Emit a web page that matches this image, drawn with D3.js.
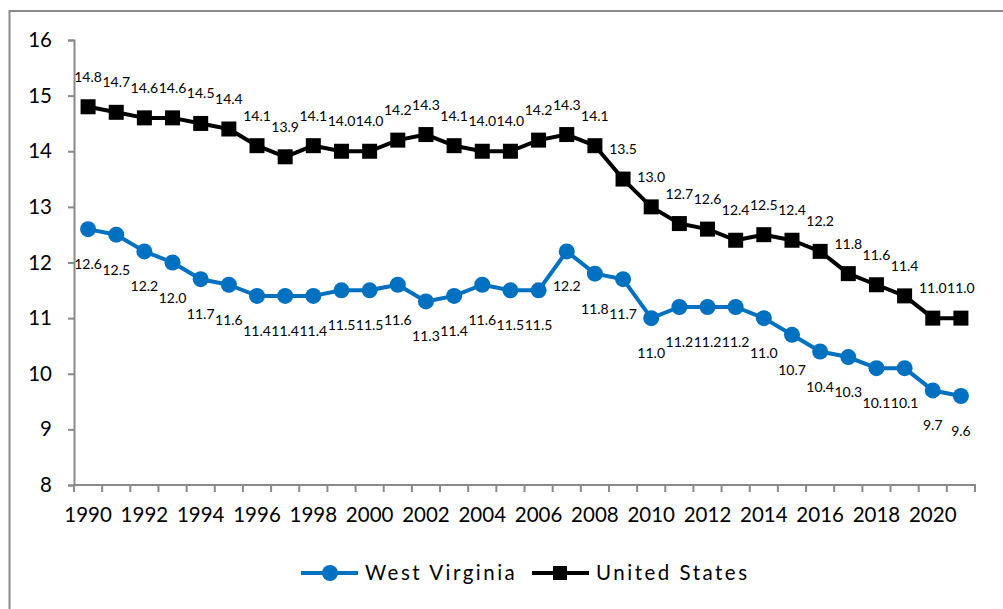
<!DOCTYPE html>
<html>
<head>
<meta charset="utf-8">
<script src="https://cdn.jsdelivr.net/npm/d3@7"></script>
<style>
  html, body { margin: 0; padding: 0; background: #fff; }
  svg { display: block; font-family: Lato, "Open Sans", sans-serif; }
</style>
</head>
<body>
<svg id="chart" width="1003" height="609"></svg>
<script>
// Years on the category axis
const years = d3.range(1990, 2022);

// Series values, one per year
const westVirginia = [12.6, 12.5, 12.2, 12.0, 11.7, 11.6, 11.4, 11.4, 11.4, 11.5, 11.5, 11.6,
                      11.3, 11.4, 11.6, 11.5, 11.5, 12.2, 11.8, 11.7, 11.0, 11.2, 11.2, 11.2,
                      11.0, 10.7, 10.4, 10.3, 10.1, 10.1, 9.7, 9.6];
const unitedStates = [14.8, 14.7, 14.6, 14.6, 14.5, 14.4, 14.1, 13.9, 14.1, 14.0, 14.0, 14.2,
                      14.3, 14.1, 14.0, 14.0, 14.2, 14.3, 14.1, 13.5, 13.0, 12.7, 12.6, 12.4,
                      12.5, 12.4, 12.2, 11.8, 11.6, 11.4, 11.0, 11.0];

// Axis ticks
const yTicks = [8, 9, 10, 11, 12, 13, 14, 15, 16];
const xTickLabels = years.filter(y => y % 2 === 0);

const seriesNames = ["West Virginia", "United States"];

const svg = d3.select("#chart");
const axisColor = "#8a8a8a";

// Outer frame
svg.append("rect")
  .attr("x", 9.5).attr("y", 11)
  .attr("width", 1010).attr("height", 620)
  .attr("fill", "none")
  .attr("stroke", axisColor)
  .attr("stroke-width", 2);

const x = d3.scaleBand().domain(years).range([74, 975]).padding(0);
const y = d3.scaleLinear().domain([8, 16]).range([485, 40]);
const cx = d => x(d) + x.bandwidth() / 2;

// Y axis
const yAxis = svg.append("g")
  .attr("transform", "translate(74,0)")
  .call(d3.axisLeft(y).tickValues(yTicks).tickSize(6).tickPadding(16).tickFormat(d3.format("d")));
yAxis.select(".domain").attr("stroke", axisColor).attr("stroke-width", 2);
yAxis.selectAll(".tick line").attr("stroke", axisColor).attr("stroke-width", 2);
yAxis.selectAll(".tick text")
  .attr("fill", "#000")
  .style("font-size", "20.5px")
  .style("font-family", "Lato, sans-serif");

// X axis line and tick marks at category boundaries
const xAxisG = svg.append("g");
xAxisG.append("line")
  .attr("x1", 73).attr("x2", 976)
  .attr("y1", 485).attr("y2", 485)
  .attr("stroke", axisColor).attr("stroke-width", 2);
xAxisG.selectAll("line.xtick")
  .data(years.map(d => x(d)).concat([x(years[years.length - 1]) + x.bandwidth()]))
  .join("line")
  .attr("class", "xtick")
  .attr("x1", d => d).attr("x2", d => d)
  .attr("y1", 485).attr("y2", 492)
  .attr("stroke", axisColor).attr("stroke-width", 2);

// X tick labels, every other year
const xLabels = svg.append("g")
  .attr("transform", "translate(0,485)")
  .call(d3.axisBottom(x).tickValues(xTickLabels).tickSize(0).tickPadding(22));
xLabels.select(".domain").remove();
xLabels.selectAll(".tick text")
  .attr("fill", "#000")
  .style("font-size", "20.5px")
  .style("font-family", "Lato, sans-serif");

// Lines
const line = d3.line().x((d, i) => cx(years[i])).y(d => y(d));

svg.append("path")
  .datum(unitedStates)
  .attr("d", line)
  .attr("fill", "none")
  .attr("stroke", "#000")
  .attr("stroke-width", 4)
  .attr("stroke-linejoin", "round");

svg.append("path")
  .datum(westVirginia)
  .attr("d", line)
  .attr("fill", "none")
  .attr("stroke", "#0070C0")
  .attr("stroke-width", 4)
  .attr("stroke-linejoin", "round");

// Markers
const sq = 15;
svg.append("g").selectAll("rect")
  .data(unitedStates)
  .join("rect")
  .attr("x", (d, i) => cx(years[i]) - sq / 2)
  .attr("y", d => y(d) - sq / 2)
  .attr("width", sq).attr("height", sq)
  .attr("fill", "#000");

svg.append("g").selectAll("circle")
  .data(westVirginia)
  .join("circle")
  .attr("cx", (d, i) => cx(years[i]))
  .attr("cy", d => y(d))
  .attr("r", 8)
  .attr("fill", "#0070C0");

// Value labels
svg.append("g").selectAll("text")
  .data(unitedStates)
  .join("text")
  .attr("x", (d, i) => cx(years[i]))
  .attr("y", d => y(d) - 25)
  .attr("text-anchor", "middle")
  .style("font-size", "14px")
  .attr("fill", "#000")
  .text(d => d.toFixed(1));

svg.append("g").selectAll("text")
  .data(westVirginia)
  .join("text")
  .attr("x", (d, i) => cx(years[i]))
  .attr("y", d => y(d) + 40)
  .attr("text-anchor", "middle")
  .style("font-size", "14px")
  .attr("fill", "#000")
  .text(d => d.toFixed(1));

// Legend
const legend = svg.append("g");
const legendItems = [
  { name: seriesNames[0], color: "#0070C0", shape: "circle", x0: 301 },
  { name: seriesNames[1], color: "#000", shape: "square", x0: 532 }
];
legendItems.forEach(item => {
  const g = legend.append("g");
  g.append("line")
    .attr("x1", item.x0).attr("x2", item.x0 + 57)
    .attr("y1", 573).attr("y2", 573)
    .attr("stroke", item.color).attr("stroke-width", 4);
  if (item.shape === "circle") {
    g.append("circle").attr("cx", item.x0 + 29).attr("cy", 573).attr("r", 8).attr("fill", item.color);
  } else {
    g.append("rect").attr("x", item.x0 + 28 - 7).attr("y", 573 - 7).attr("width", 14).attr("height", 14).attr("fill", item.color);
  }
  g.append("text")
    .attr("x", item.x0 + 64)
    .attr("y", 580)
    .style("font-size", "20.5px")
    .style("letter-spacing", "2.5px")
    .attr("fill", "#000")
    .text(item.name);
});
</script>
</body>
</html>
